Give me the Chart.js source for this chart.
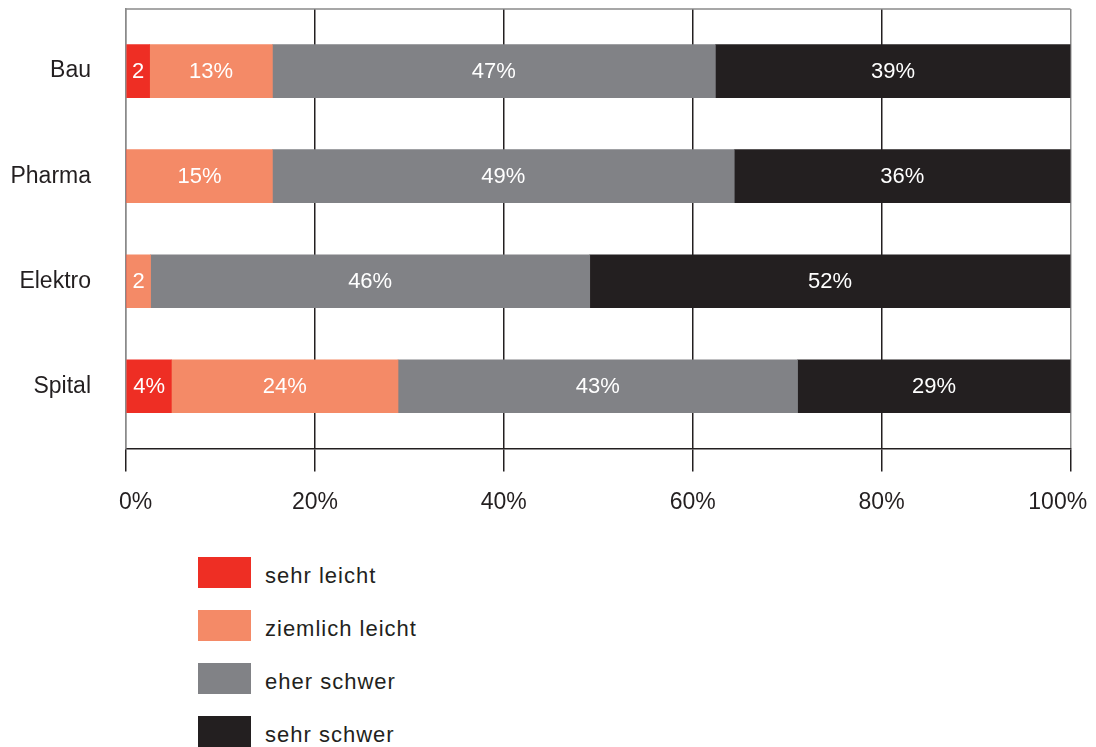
<!DOCTYPE html>
<html lang="de">
<head>
<meta charset="utf-8">
<title>Branchen</title>
<script src="https://cdn.jsdelivr.net/npm/chart.js@4.4.1/dist/chart.umd.min.js"></script>
<style>
  body { margin: 0; background: #fff; font-family: "Liberation Sans", Arial, sans-serif; color: #231f20; }
  #wrap { position: relative; width: 1096px; height: 747px; overflow: hidden; }
  #grafico { position: absolute; left: 0; top: 0; }
  #legende { position: absolute; left: 198px; top: 557px; }
  .leg-item { display: flex; align-items: flex-start; height: 53px; }
  .leg-box { width: 53px; height: 31px; flex: none; }
  .leg-text { margin-left: 14px; font-size: 22px; letter-spacing: 1px; line-height: 31px; padding-top: 3px; }
</style>
</head>
<body>
<div id="wrap">
  <canvas id="grafico" width="1096" height="547"></canvas>
  <div id="legende"></div>
</div>
<script>
// === DATEN ===
const branchen = ["Bau", "Pharma", "Elektro", "Spital"];
const serien = ["sehr leicht", "ziemlich leicht", "eher schwer", "sehr schwer"];
const farben = ["#ee2e24", "#f48a67", "#818286", "#231f20"];

const sehrLeicht     = [2.5, 0, 0, 4.8];
const ziemlichLeicht = [13.0, 15.5, 2.6, 24.0];
const eherSchwer     = [46.9, 48.9, 46.5, 42.3];
const sehrSchwer     = [37.6, 35.6, 50.9, 28.9];

// Beschriftungen wie im Original (gerundet)
const textSehrLeicht     = ["2", "", "", "4%"];
const textZiemlichLeicht = ["13%", "15%", "2", "24%"];
const textEherSchwer     = ["47%", "49%", "46%", "43%"];
const textSehrSchwer     = ["39%", "36%", "52%", "29%"];

const xTickWerte = [0, 20, 40, 60, 80, 100];
const xTickTexte = ["   0%", "20%", "40%", "60%", "80%", "100%    "];

const werte = [sehrLeicht, ziemlichLeicht, eherSchwer, sehrSchwer];
const texte = [textSehrLeicht, textZiemlichLeicht, textEherSchwer, textSehrSchwer];

const FONT = '"Liberation Sans", Arial, sans-serif';
const Y_MIN = -0.5915, Y_MAX = 3.5915;

// === WERTE IN DIE BALKEN SCHREIBEN ===
const balkenText = {
  id: 'balkenText',
  afterDatasetsDraw(chart) {
    const ctx = chart.ctx;
    ctx.save();
    ctx.font = '22px ' + FONT;
    ctx.fillStyle = '#ffffff';
    ctx.textAlign = 'center';
    ctx.textBaseline = 'middle';
    chart.data.datasets.forEach((ds, d) => {
      chart.getDatasetMeta(d).data.forEach((bar, i) => {
        const t = texte[d][i];
        if (!t) return;
        const p = bar.getCenterPoint();
        ctx.fillText(t, p.x, p.y + 1);
      });
    });
    ctx.restore();
  }
};

// obere Rahmenlinie
const rahmenOben = {
  id: 'rahmenOben',
  beforeDatasetsDraw(chart) {
    const {ctx, chartArea} = chart;
    ctx.save();
    ctx.strokeStyle = '#8a8a8a';
    ctx.lineWidth = 1.5;
    ctx.beginPath();
    ctx.moveTo(chartArea.left, chartArea.top);
    ctx.lineTo(chartArea.right, chartArea.top);
    ctx.stroke();
    ctx.restore();
  }
};

// === DIAGRAMM ===
new Chart(document.getElementById('grafico'), {
  type: 'bar',
  data: {
    datasets: serien.map((name, d) => ({
      label: name,
      data: werte[d].map((v, i) => ({ x: v, y: i })),
      backgroundColor: farben[d],
      borderWidth: 0,
      barThickness: 53
    }))
  },
  options: {
    indexAxis: 'y',
    responsive: false,
    animation: false,
    layout: { padding: { top: 9, right: 25.5, bottom: 14, left: 0 } },
    plugins: { legend: { display: false }, tooltip: { enabled: false } },
    scales: {
      x: {
        type: 'linear',
        stacked: true,
        min: 0,
        max: 100,
        afterBuildTicks: s => { s.ticks = xTickWerte.map(v => ({ value: v })); s.min = 0; s.max = 100; },
        afterFit: s => { s.paddingLeft = 0; s.paddingRight = 0; },
        grid: {
          color: c => (c.index === 0 || c.index === 5) ? '#8a8a8a' : '#231f20',
          lineWidth: 1.5,
          tickLength: 23,
          tickColor: '#231f20'
        },
        border: { display: true, color: '#231f20', width: 1.5 },
        ticks: {
          color: '#231f20',
          font: { family: FONT, size: 23 },
          padding: 17,
          maxRotation: 0,
          autoSkip: false,
          callback: (v, i) => xTickTexte[i]
        }
      },
      y: {
        type: 'linear',
        stacked: true,
        reverse: true,
        offset: false,
        min: Y_MIN,
        max: Y_MAX,
        afterBuildTicks: s => { s.ticks = branchen.map((b, i) => ({ value: i })); s.min = Y_MIN; s.max = Y_MAX; },
        afterFit: s => { s.width = 126; s.paddingTop = 0; s.paddingBottom = 0; },
        grid: { display: false, drawTicks: false, offset: false },
        border: { display: true, color: '#8a8a8a', width: 1.5 },
        ticks: {
          color: '#231f20',
          font: { family: FONT, size: 23 },
          padding: 35,
          autoSkip: false,
          callback: (v, i) => branchen[i]
        }
      }
    }
  },
  plugins: [rahmenOben, balkenText]
});

// === LEGENDE ===
document.getElementById('legende').innerHTML = serien.map((name, d) => `
  <div class="leg-item">
    <div class="leg-box" style="background:${farben[d]}"></div>
    <div class="leg-text">${name}</div>
  </div>`).join('');
</script>
</body>
</html>
